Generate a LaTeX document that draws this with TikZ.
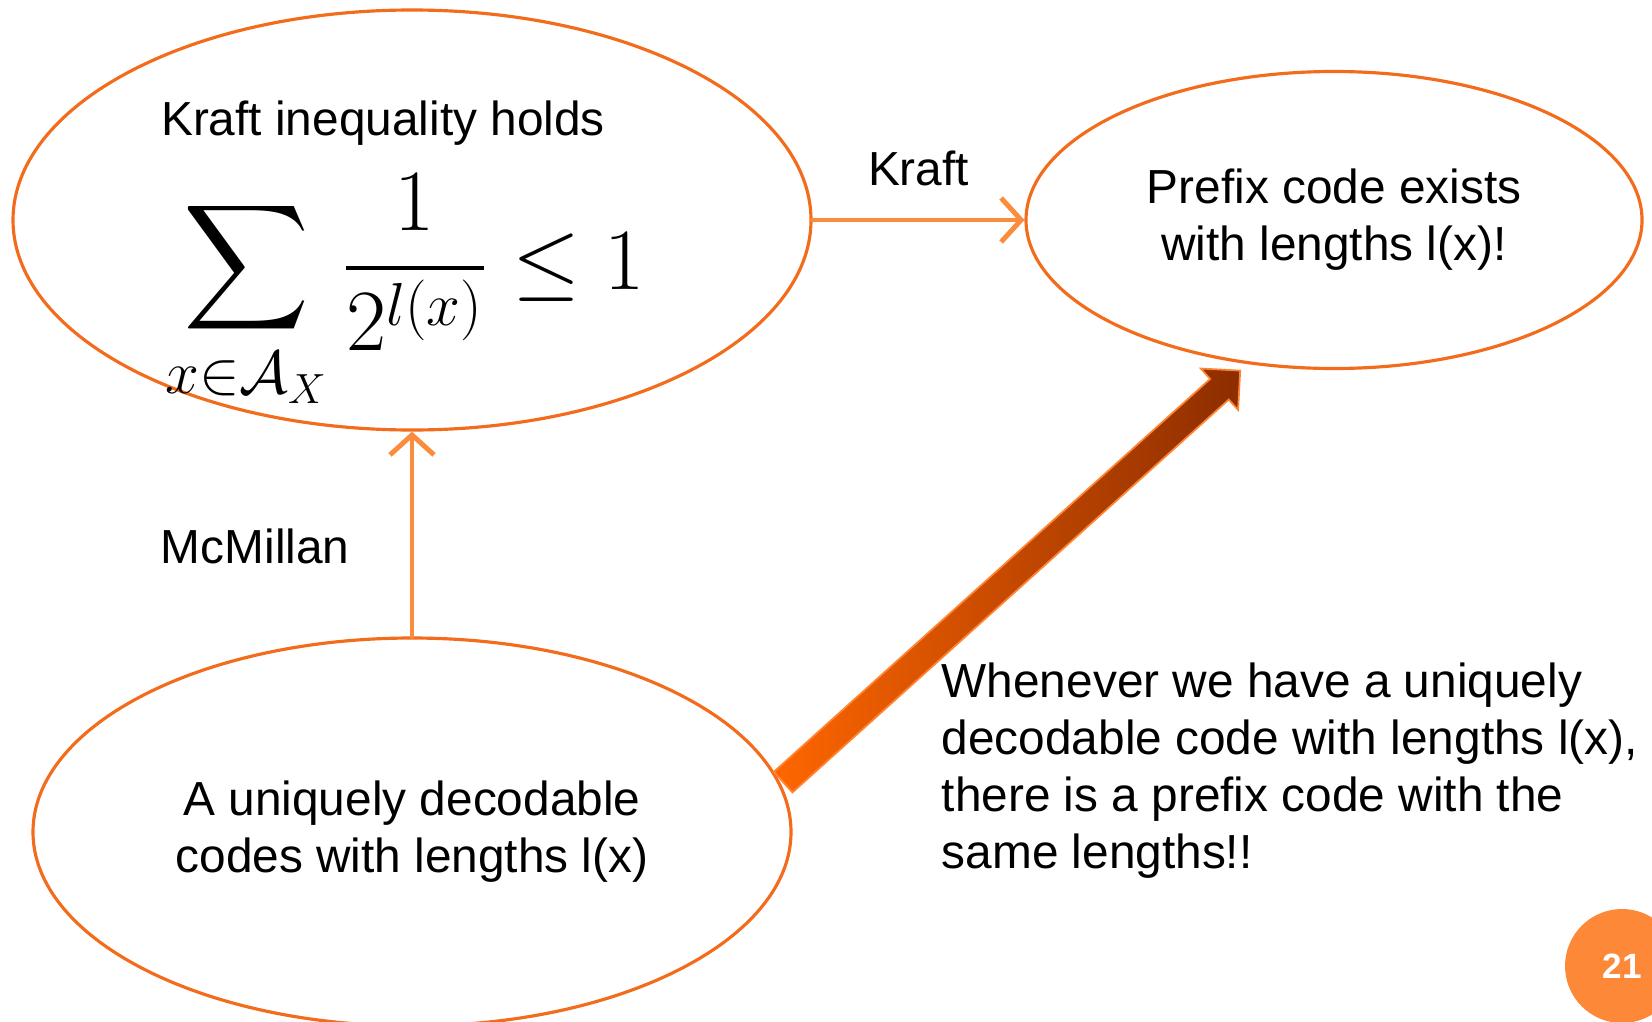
\documentclass[tikz,border=0pt]{standalone}
\usepackage{exscale}
\usepackage{fontspec}
\setmainfont{Liberation Sans}
\usepackage{tikz}
\usetikzlibrary{shapes.geometric,shapes.arrows,arrows.meta,calc}
\definecolor{ringorange}{RGB}{242,108,28}
\definecolor{linkorange}{RGB}{250,140,60}
\definecolor{pageorange}{RGB}{252,136,56}
\definecolor{hotorange}{RGB}{255,102,0}
\definecolor{rustbrown}{RGB}{140,45,0}
\tikzset{
  claim/.style={draw=ringorange, line width=0.9pt, ellipse, inner sep=0pt, align=center},
  proof/.style={draw=linkorange, line width=1.4pt, line cap=round, line join=round,
    -{Straight Barb[length=2mm,width=4.4mm]}},
  txt/.style={font=\fontsize{13.6}{16.2}\selectfont, inner sep=0pt}
}

\begin{document}
\begin{tikzpicture}
  \useasboundingbox (0,0) rectangle (16.52,10.21);
  % the three statements
  \node[claim, minimum width=7.98cm, minimum height=4.2cm] (kraftineq) at (4.12,8.01) {};
  \node[claim, txt, minimum width=6.16cm, minimum height=2.97cm] (prefix) at (13.34,8.01)
    {Prefix code exists\\with lengths l(x)!};
  \node[claim, txt, minimum width=7.58cm, minimum height=3.88cm] (udcode) at (4.12,1.89)
    {A uniquely decodable\\codes with lengths l(x)};
  \node[txt] (kraftlbl) at (3.83,8.98) {Kraft inequality holds};
  \node[inner sep=0pt, font=\fontsize{24.5}{28}\selectfont] (formula) at (4.05,7.28)
    {$\displaystyle\sum_{x\in\mathcal{A}_X}\frac{1}{2^{l(x)}}\le 1$};

  % implications
  \draw[proof] (kraftineq.east) -- (prefix.west)
    node[txt, midway, above=0.32cm] (kraftarr) {Kraft};
  \draw[proof] (udcode.north) -- (kraftineq.south)
    node[txt, pos=0.44, left=0.6cm] (mcmillan) {McMillan};

  % the big arrow
  \coordinate (bigtail) at (7.78,2.34);
  \coordinate (bigtip) at (12.35,6.46);
  \node[single arrow, single arrow head extend=0.14cm, single arrow tip angle=90,
    inner xsep=0pt, inner ysep=0.13cm, minimum height=6.15cm, rotate=42,
    left color=hotorange, right color=rustbrown, draw=hotorange!80!white, line width=0.5pt]
    (bigarrow) at ($(bigtail)!0.5!(bigtip)$) {};
  \node[txt, align=left, anchor=west] (remark) at (9.41,2.50)
    {Whenever we have a uniquely\\decodable code with lengths l(x),\\there is a prefix code with the\\same lengths!!};

  \node[circle, fill=pageorange, minimum size=1.14cm, inner sep=0pt, text=white,
    font=\bfseries\fontsize{10}{12}\selectfont] (pagenum) at (16.22,0.55) {21};
\end{tikzpicture}
\end{document}
